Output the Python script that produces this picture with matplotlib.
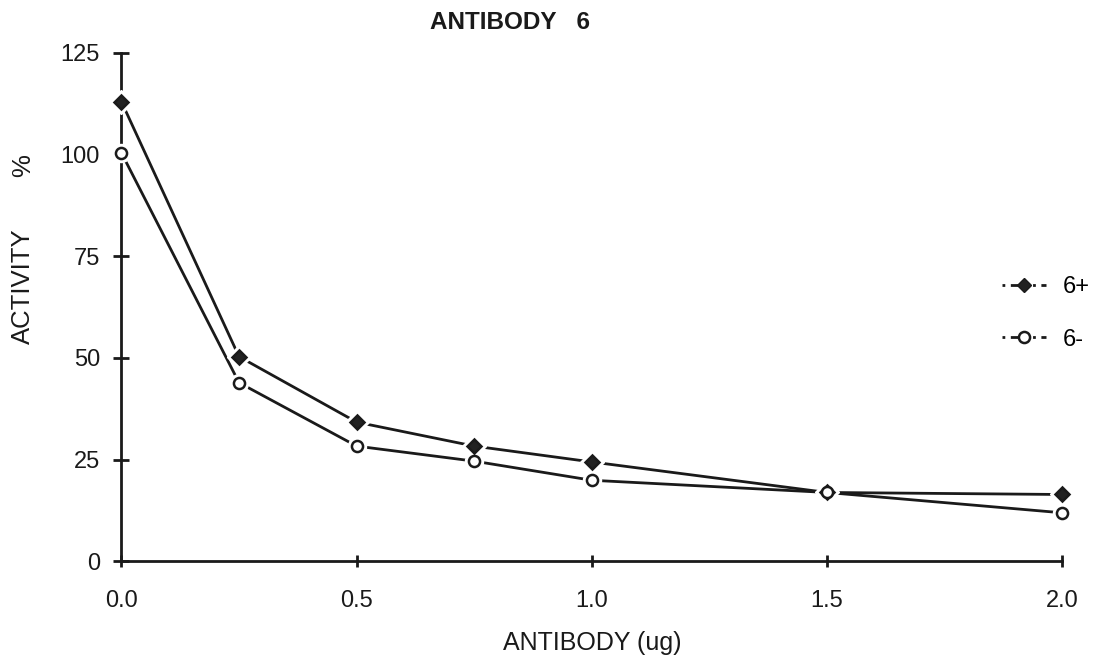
import matplotlib
matplotlib.use("Agg")
import matplotlib.pyplot as plt

plt.rcParams['font.family'] = ['Liberation Sans', 'DejaVu Sans']

# antibody amount (ug) and remaining activity (%)
dose = [0.0, 0.25, 0.5, 0.75, 1.0, 1.5, 2.0]
act_plus = [113, 50.3, 34.2, 28.3, 24.4, 16.9, 16.4]
act_minus = [100.4, 43.9, 28.3, 24.6, 19.9, 16.9, 11.9]

x_ticks = [0.0, 0.5, 1.0, 1.5, 2.0]
x_ticklabels = ['0.0', '0.5', '1.0', '1.5', '2.0']
y_ticks = [0, 25, 50, 75, 100, 125]

ink = '#1a1a1a'

fig = plt.figure(figsize=(10.99, 6.61), dpi=100)
ax = fig.add_axes([0.1105, 0.151, 0.856, 0.769])

series = [(act_plus, 'D', '#222222', 7.5), (act_minus, 'o', 'white', 8)]
for vals, mk, fc, ms in series:
    ax.plot(dose, vals, color=ink, lw=2.0, zorder=2, clip_on=False)
    # white halo so the line stops short of each marker
    ax.plot(dose, vals, ls='none', marker=mk, ms=ms + 5, mfc='white', mec='white',
            zorder=3, clip_on=False)
    ax.plot(dose, vals, ls='none', marker=mk, ms=ms, mfc=fc, mec=ink,
            mew=1.8, zorder=4, clip_on=False)

h_plus, = ax.plot([], [], color=ink, lw=2.0, ls=(0, (1, 2, 6, 2)),
                  marker='D', ms=7.5, mfc='#222222', mec=ink)
h_minus, = ax.plot([], [], color=ink, lw=2.0, ls=(0, (1, 2, 6, 2)),
                   marker='o', ms=8, mfc='white', mec=ink, mew=1.8)
fig.legend([h_plus, h_minus], ['6+', '6-'], loc='center left',
           bbox_to_anchor=(0.892, 0.526), frameon=False, fontsize=17,
           handlelength=1.9, handletextpad=0.7, labelspacing=1.3)

ax.set_xlim(0, 2.0)
ax.set_ylim(0, 125)
ax.set_xticks(x_ticks)
ax.set_xticklabels(x_ticklabels)
ax.set_yticks(y_ticks)

for side in ['top', 'right']:
    ax.spines[side].set_visible(False)
for side in ['left', 'bottom']:
    ax.spines[side].set_linewidth(2.0)
    ax.spines[side].set_color(ink)

ax.tick_params(axis='y', direction='inout', length=11, width=2, pad=10,
               labelsize=17, colors=ink)
ax.tick_params(axis='x', direction='inout', length=9, width=2, pad=16,
               labelsize=17, colors=ink)

ax.set_xlabel('ANTIBODY (ug)', fontsize=18, labelpad=14, color=ink)
fig.text(0.021, 0.567, 'ACTIVITY', rotation=90, ha='center', va='center',
         fontsize=18.5, color=ink)
fig.text(0.021, 0.750, '%', rotation=90, ha='center', va='center',
         fontsize=18.5, color=ink)
fig.text(0.464, 0.966, 'ANTIBODY   6', ha='center', va='center',
         fontsize=17.5, fontweight='bold', color=ink)

fig.savefig('out.png', dpi=100)
